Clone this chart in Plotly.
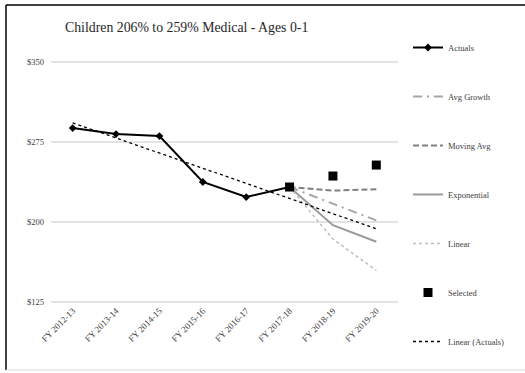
import plotly.graph_objects as go

# Fiscal years on the category axis
years = ["FY 2012-13", "FY 2013-14", "FY 2014-15", "FY 2015-16",
         "FY 2016-17", "FY 2017-18", "FY 2018-19", "FY 2019-20"]

# Monthly rate, actuals and forecast methods
actuals = [288.1, 282.5, 280.6, 237.5, 223.4, 232.8]
forecast_years = ["FY 2017-18", "FY 2018-19", "FY 2019-20"]
avg_growth = [232.8, 217.0, 201.5]
moving_avg = [232.8, 229.4, 230.7]
exponential = [232.8, 197.0, 181.5]
linear = [232.8, 184.0, 154.5]
selected = [232.8, 243.1, 253.4]
linear_actuals = [293.0, 278.8, 264.6, 250.4, 236.2, 222.0, 207.8, 193.6]

y_ticks = [125, 200, 275, 350]
y_tick_text = ["$125", "$200", "$275", "$350"]

W, H = 525, 373
L, R, T, B = 51, 127, 61, 70
SERIF = "Liberation Serif"


def px_x(p):
    return (p - L) / (W - L - R)


def px_y(p):
    return (H - B - p) / (H - T - B)


fig = go.Figure()

fig.add_trace(go.Scatter(
    x=years[:6], y=actuals, name="Actuals", mode="lines+markers",
    line=dict(color="#000000", width=2),
    marker=dict(symbol="diamond", size=6, color="#000000"),
    legendgroup="a"))
fig.add_trace(go.Scatter(
    x=forecast_years, y=avg_growth, name="Avg Growth", mode="lines",
    line=dict(color="#a6a6a6", width=2, dash="9px,5px,2px,5px"),
    legendgroup="b"))
fig.add_trace(go.Scatter(
    x=forecast_years, y=moving_avg, name="Moving Avg", mode="lines",
    line=dict(color="#808080", width=2, dash="6px,3px"),
    legendgroup="c"))
fig.add_trace(go.Scatter(
    x=forecast_years, y=exponential, name="Exponential", mode="lines",
    line=dict(color="#9a9a9a", width=2),
    legendgroup="d"))
fig.add_trace(go.Scatter(
    x=forecast_years, y=linear, name="Linear", mode="lines",
    line=dict(color="#bdbdbd", width=1.5, dash="dot"),
    legendgroup="e"))
fig.add_trace(go.Scatter(
    x=forecast_years, y=selected, name="Selected", mode="markers",
    marker=dict(symbol="square", size=9, color="#000000"),
    legendgroup="f"))
fig.add_trace(go.Scatter(
    x=years, y=linear_actuals, name="Linear (Actuals)", mode="lines",
    line=dict(color="#000000", width=1.3, dash="dot"),
    legendgroup="g"))

# Frame around the chart
fig.add_shape(type="line", xref="paper", yref="paper",
              x0=px_x(6), x1=px_x(6), y0=px_y(5), y1=px_y(370),
              line=dict(color="#000000", width=1.5))
fig.add_shape(type="line", xref="paper", yref="paper",
              x0=px_x(6), x1=px_x(525), y0=px_y(5), y1=px_y(5),
              line=dict(color="#000000", width=1.5))
fig.add_shape(type="line", xref="paper", yref="paper",
              x0=px_x(6), x1=px_x(525), y0=px_y(370), y1=px_y(370),
              line=dict(color="#d9d9d9", width=1))

fig.update_layout(
    width=W, height=H,
    margin=dict(l=L, r=R, t=T, b=B),
    paper_bgcolor="#ffffff", plot_bgcolor="#ffffff",
    font=dict(family=SERIF, color="#404040", size=8),
    title=dict(text="Children 206% to 259% Medical - Ages 0-1",
               x=65 / W, xanchor="left", y=1 - 27 / H, yanchor="middle",
               font=dict(family=SERIF, size=13.8, color="#262626")),
    showlegend=True,
    legend=dict(x=px_x(408), y=px_y(33), xanchor="left", yanchor="top",
                traceorder="grouped", tracegroupgap=30, maxheight=400,
                font=dict(family=SERIF, size=8.5, color="#404040"),
                bgcolor="rgba(0,0,0,0)"),
    xaxis=dict(type="category", categoryorder="array", categoryarray=years,
               range=[-0.5, 7.5], showgrid=False, showline=False, ticks="",
               tickangle=-45, tickfont=dict(family=SERIF, size=9, color="#404040")),
    yaxis=dict(range=[124, 351], tickvals=y_ticks, ticktext=y_tick_text,
               showgrid=True, gridcolor="#e3e3e3", gridwidth=1.5,
               zeroline=False, showline=False, ticks="",
               ticklabelstandoff=6,
               tickfont=dict(family=SERIF, size=8.5, color="#404040")),
)

fig.write_html("out.html")
